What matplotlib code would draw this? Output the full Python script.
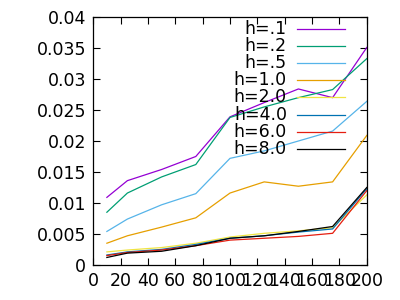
import numpy as np
import matplotlib
matplotlib.use("Agg")
import matplotlib.pyplot as plt

# x positions shared by every series
x = [10, 25, 50, 75, 100, 125, 150, 175, 200]

labels = ['h=.1', 'h=.2', 'h=.5', 'h=1.0', 'h=2.0', 'h=4.0', 'h=6.0', 'h=8.0']
h01 = [0.0109, 0.0136, 0.0154, 0.0175, 0.0239, 0.0262, 0.0284, 0.0270, 0.0351]
h02 = [0.0085, 0.0116, 0.0142, 0.0162, 0.0238, 0.0255, 0.0270, 0.0283, 0.0333]
h05 = [0.0054, 0.0074, 0.0097, 0.0115, 0.0172, 0.0184, 0.0200, 0.0216, 0.0264]
h10 = [0.0035, 0.0047, 0.0061, 0.0076, 0.0116, 0.0134, 0.0127, 0.0134, 0.0209]
h20 = [0.0021, 0.0024, 0.0028, 0.0035, 0.0045, 0.0051, 0.0055, 0.0060, 0.0113]
h40 = [0.0016, 0.0021, 0.0025, 0.0033, 0.0043, 0.0047, 0.0053, 0.0058, 0.0123]
h60 = [0.0015, 0.0020, 0.0024, 0.0031, 0.0040, 0.0043, 0.0046, 0.0051, 0.0120]
h80 = [0.0012, 0.0019, 0.0022, 0.0031, 0.0043, 0.0047, 0.0054, 0.0062, 0.0125]
series = [h01, h02, h05, h10, h20, h40, h60, h80]

# gnuplot default line colours
colors = ['#9400d3', '#009e73', '#56b4e9', '#e69f00',
          '#f0e442', '#0072b2', '#e51e10', '#000000']

plt.rcParams['font.family'] = ['DejaVu Sans']
plt.rcParams['font.size'] = 12.5

fig = plt.figure(figsize=(4, 3), dpi=100)
ax = fig.add_axes([0.233, 0.117, 0.684, 0.826])

for ys, c in zip(series, colors):
    ax.plot(x, ys, color=c, lw=0.9)

ax.set_xlim(0, 200)
ax.set_ylim(0, 0.04)
ax.set_xticks(np.arange(0, 201, 20))
ax.set_yticks(np.arange(0, 0.0401, 0.005))
ax.set_yticklabels(['0', '0.005', '0.01', '0.015', '0.02', '0.025', '0.03', '0.035', '0.04'])
ax.tick_params(direction='in', top=True, right=True, length=5, width=0.8, pad=5)
for s in ax.spines.values():
    s.set_linewidth(0.9)

# gnuplot-style key: right-aligned text, sample line to its right
h_px = 248
for i, (lab, c) in enumerate(zip(labels, colors)):
    yf = (265 - (28.5 + 17.2 * i)) / h_px
    ax.text(0.708, yf, lab, transform=ax.transAxes, ha='right', va='center')
    ax.plot([0.744, 0.921], [yf, yf], transform=ax.transAxes, color=c, lw=0.9)

fig.savefig('out.png', dpi=100)
